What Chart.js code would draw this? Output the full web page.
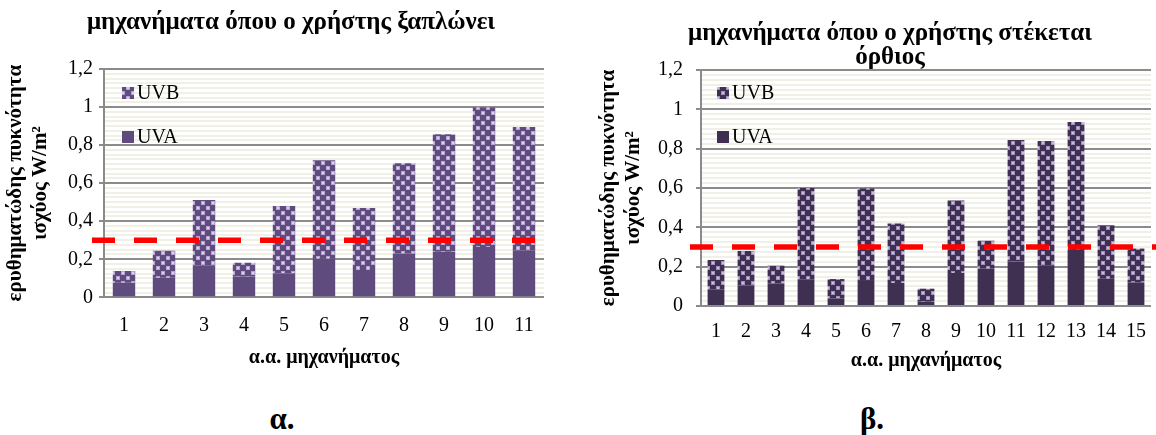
<!DOCTYPE html>
<html>
<head>
<meta charset="utf-8">
<script src="https://cdn.jsdelivr.net/npm/chart.js@4.4.1/dist/chart.umd.min.js"></script>
<style>
  html, body { margin: 0; padding: 0; background: #fff; }
  body { width: 1156px; height: 435px; position: relative; overflow: hidden;
         font-family: "Liberation Serif", "Times New Roman", serif; }
  canvas { position: absolute; top: 0; }
  #chartA { left: 0; }
  #chartB { left: 580px; }
  .cap { position: absolute; width: 80px; text-align: center; font-weight: bold;
         font-size: 31px; line-height: 31px; color: #000; }
</style>
</head>
<body>
<canvas id="chartA" width="582" height="395"></canvas>
<canvas id="chartB" width="620" height="395"></canvas>
<div class="cap" style="left:242px; top:403px;">α.</div>
<div class="cap" style="left:832px; top:403px;">β.</div>
<script>
// Machines where the user lies down (α) and stands upright (β)
const machinesA = ['1', '2', '3', '4', '5', '6', '7', '8', '9', '10', '11'];
const uvaA = [0.077, 0.103, 0.166, 0.109, 0.126, 0.203, 0.144, 0.230, 0.240, 0.265, 0.245];
const uvbA = [0.061, 0.142, 0.346, 0.073, 0.354, 0.517, 0.326, 0.474, 0.617, 0.732, 0.650];

const machinesB = ['1', '2', '3', '4', '5', '6', '7', '8', '9', '10', '11', '12', '13', '14', '15'];
const uvaB = [0.085, 0.105, 0.115, 0.136, 0.039, 0.132, 0.117, 0.022, 0.168, 0.190, 0.227, 0.205, 0.285, 0.139, 0.120];
const uvbB = [0.149, 0.175, 0.090, 0.464, 0.098, 0.466, 0.303, 0.066, 0.369, 0.142, 0.617, 0.634, 0.651, 0.271, 0.172];

// erythemal irradiance limit, W/m²
const limitValue = [0.3];

const yTickLabels = ['0', '0,2', '0,4', '0,6', '0,8', '1', '1,2'];
const titleA = 'μηχανήματα όπου ο χρήστης ξαπλώνει';
const titleB = ['μηχανήματα όπου ο χρήστης στέκεται', 'όρθιος'];
const yTitle = ['ερυθηματώδης πυκνότητα', 'ισχύος W/m²'];
const xTitle = 'α.α. μηχανήματος';

const SERIF = '"Liberation Serif", "Times New Roman", serif';
Chart.defaults.font.family = SERIF;
Chart.defaults.color = '#000';

function dottedFill(base, dot, core) {
  const tile = document.createElement('canvas');
  tile.width = 10; tile.height = 10;
  const g = tile.getContext('2d');
  g.fillStyle = base; g.fillRect(0, 0, 10, 10);
  g.fillStyle = dot; g.fillRect(1, 1, 4, 4); g.fillRect(6, 6, 4, 4);
  g.fillStyle = core; g.fillRect(2, 2, 2, 2); g.fillRect(7, 7, 2, 2);
  return g.createPattern(tile, 'repeat');
}

// faint horizontal hatching behind the plot
const plotBackdrop = {
  id: 'plotBackdrop',
  beforeDraw(chart) {
    const { ctx, chartArea: a, scales: { y } } = chart;
    ctx.save();
    ctx.strokeStyle = '#f1f0e7';
    ctx.lineWidth = 2;
    for (let v = 0.025; v < 1.2; v += 0.025) {
      const py = Math.round(y.getPixelForValue(v));
      ctx.beginPath(); ctx.moveTo(a.left, py); ctx.lineTo(a.right, py); ctx.stroke();
    }
    ctx.restore();
  }
};

// red dashed limit line
const limitLine = {
  id: 'limitLine',
  afterDatasetsDraw(chart, args, opts) {
    const { ctx, chartArea: a, scales: { y } } = chart;
    const py = y.getPixelForValue(opts.value);
    ctx.save();
    ctx.strokeStyle = '#ff0000';
    ctx.lineWidth = 5.5;
    ctx.setLineDash([23, 19]);
    ctx.beginPath();
    ctx.moveTo(a.left - opts.before, py);
    ctx.lineTo(a.right + opts.after, py);
    ctx.stroke();
    ctx.restore();
  }
};

// legend drawn inside the plot, top-left, last series first
const insetLegend = {
  id: 'insetLegend',
  afterDraw(chart, args, opts) {
    const { ctx, chartArea: a } = chart;
    const sets = chart.data.datasets.slice().reverse();
    ctx.save();
    ctx.font = '20px ' + SERIF;
    ctx.textBaseline = 'middle';
    sets.forEach((ds, i) => {
      const cy = a.top + opts.top + i * opts.gap;
      const bx = a.left + opts.left;
      ctx.fillStyle = ds.backgroundColor;
      ctx.fillRect(bx, cy - 6, 12, 12);
      ctx.fillStyle = '#000';
      ctx.fillText(ds.label, bx + 15, cy + 1);
    });
    ctx.restore();
  }
};

function buildChart(id, cfg) {
  return new Chart(document.getElementById(id), {
    type: 'bar',
    data: {
      labels: cfg.labels,
      datasets: [
        { label: 'UVA', data: cfg.uva, backgroundColor: cfg.uvaColor },
        { label: 'UVB', data: cfg.uvb, backgroundColor: cfg.uvbFill }
      ]
    },
    plugins: [plotBackdrop, limitLine, insetLegend],
    options: {
      responsive: false,
      animation: false,
      devicePixelRatio: 1,
      layout: { padding: 0 },
      datasets: { bar: { barPercentage: 0.56, categoryPercentage: 1.0, borderWidth: 0 } },
      plugins: {
        legend: { display: false },
        tooltip: { enabled: false },
        title: {
          display: true,
          text: cfg.title,
          color: '#000',
          font: { size: 25, weight: 'bold', lineHeight: cfg.titleLH },
          padding: cfg.titlePad
        },
        limitLine: { value: limitValue[0], before: cfg.lineBefore, after: cfg.lineAfter },
        insetLegend: { left: cfg.legLeft, top: cfg.legTop, gap: 44 }
      },
      scales: {
        x: {
          stacked: true,
          grid: { display: false, drawTicks: false },
          border: { display: false },
          ticks: { font: { size: 20 }, color: '#000', padding: cfg.xTickPad, maxRotation: 0, autoSkip: false },
          title: { display: true, text: xTitle, color: '#000',
                   font: { size: 20, weight: 'bold' }, padding: { top: 0, bottom: cfg.xTitlePad } },
          afterFit(s) { s.height = cfg.xHeight; }
        },
        y: {
          stacked: true,
          min: 0, max: 1.2,
          ticks: { stepSize: 0.2, font: { size: 20 }, color: '#000', padding: cfg.yTickPad,
                   callback: (v, i) => yTickLabels[i] },
          grid: { color: '#8b8b8b', lineWidth: 2, drawTicks: true, tickLength: 5 },
          border: { display: true, color: '#8b8b8b', width: 2 },
          title: { display: true, text: yTitle, color: '#000',
                   font: { size: 21, weight: 'bold', lineHeight: 1.2 }, padding: { top: cfg.yTitlePad, bottom: 0 } },
          afterFit(s) { s.width = cfg.yWidth; }
        },
        spare: {
          position: 'right',
          display: true,
          grid: { display: false },
          border: { display: false },
          ticks: { display: false },
          afterFit(s) { s.width = cfg.rightGap; }
        }
      }
    }
  });
}

buildChart('chartA', {
  labels: machinesA, uva: uvaA, uvb: uvbA,
  uvaColor: '#5f4b7e',
  uvbFill: dottedFill('#5f4b7e', '#b4a4cf', '#dbd1ea'),
  title: titleA, titleLH: 1.2,
  titlePad: { top: 8, bottom: 31 },
  yWidth: 104, rightGap: 38, xHeight: 97.7,
  xTickPad: 16, xTitlePad: 25, yTitlePad: 2.5, yTickPad: 6,
  lineBefore: 12, lineAfter: -9,
  legLeft: 18, legTop: 24
});

buildChart('chartB', {
  labels: machinesB, uva: uvaB, uvb: uvbB,
  uvaColor: '#3f3052',
  uvbFill: dottedFill('#3f3052', '#9f8ebe', '#c9bddd'),
  title: titleB, titleLH: 0.96,
  titlePad: { top: 22, bottom: 0 },
  yWidth: 121, rightGap: 49, xHeight: 89,
  xTickPad: 13.5, xTitlePad: 22, yTitlePad: 15.5, yTickPad: 13,
  lineBefore: 11, lineAfter: 5,
  legLeft: 16, legTop: 23
});
</script>
</body>
</html>
